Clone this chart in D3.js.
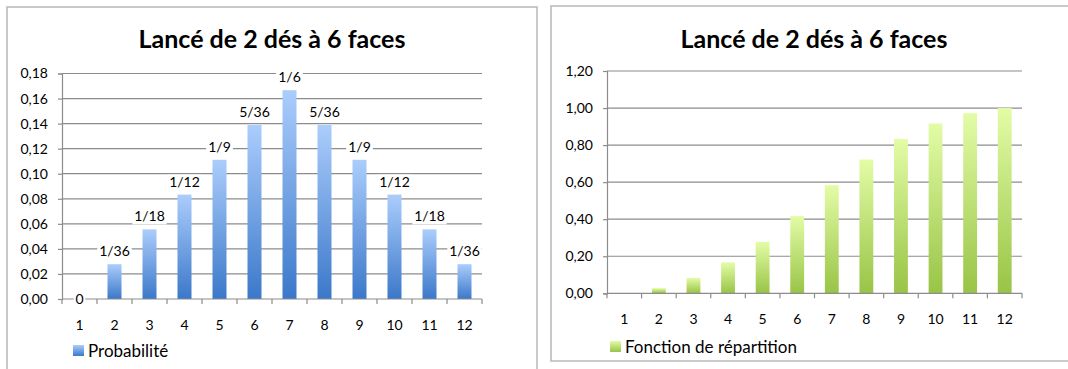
<!DOCTYPE html>
<html>
<head>
<meta charset="utf-8">
<script src="https://cdn.jsdelivr.net/npm/d3@7"></script>
<style>
  body { margin: 0; background: #fff; }
  svg { display: block; font-family: Lato, "Open Sans", sans-serif; }
</style>
</head>
<body>
<div id="chart"></div>
<script>
// data
const faces = ["1", "2", "3", "4", "5", "6", "7", "8", "9", "10", "11", "12"];
const probValues = [0, 1/36, 2/36, 3/36, 4/36, 5/36, 6/36, 5/36, 4/36, 3/36, 2/36, 1/36];
const probLabels = ["0", "1/36", "1/18", "1/12", "1/9", "5/36", "1/6", "5/36", "1/9", "1/12", "1/18", "1/36"];
const cumulValues = [0, 1/36, 3/36, 6/36, 10/36, 15/36, 21/36, 26/36, 30/36, 33/36, 35/36, 1];
const probTicks = [0, 0.02, 0.04, 0.06, 0.08, 0.10, 0.12, 0.14, 0.16, 0.18];
const cumulTicks = [0, 0.2, 0.4, 0.6, 0.8, 1.0, 1.2];
const chartTitle = "Lancé de 2 dés à 6 faces";
const probName = "Probabilité";
const cumulName = "Fonction de répartition";

const fr = d3.formatLocale({decimal: ",", thousands: " ", grouping: [3], currency: ["", "€"]});
const fmt = fr.format(".2f");

const svg = d3.select("#chart")
    .append("svg")
    .attr("width", 1068)
    .attr("height", 369);

const defs = svg.append("defs");
function gradient(id, top, bottom) {
    const g = defs.append("linearGradient")
        .attr("id", id)
        .attr("x1", 0).attr("y1", 0).attr("x2", 0).attr("y2", 1);
    g.append("stop").attr("offset", "0%").attr("stop-color", top);
    g.append("stop").attr("offset", "100%").attr("stop-color", bottom);
}
gradient("blueGrad", "#abcdfc", "#3b78c9");
gradient("greenGrad", "#e3fca6", "#98c446");

function drawPanel(opt) {
    const g = svg.append("g");

    // frame
    g.append("rect")
        .attr("x", opt.frame[0]).attr("y", opt.frame[1])
        .attr("width", opt.frame[2]).attr("height", opt.frame[3])
        .attr("fill", "#fff")
        .attr("stroke", "#b8b8b8")
        .attr("stroke-width", 1.5);

    // title
    g.append("text")
        .attr("x", opt.titleX).attr("y", 48)
        .attr("text-anchor", "middle")
        .attr("font-size", "25px")
        .attr("font-weight", "bold")
        .attr("fill", "#000")
        .text(chartTitle);

    const x = d3.scaleBand()
        .domain(faces)
        .range([opt.left, opt.right]);

    const y = d3.scaleLinear()
        .domain([0, d3.max(opt.ticks)])
        .range([opt.bottom, opt.top]);

    // gridlines
    g.append("g")
        .selectAll("line")
        .data(opt.ticks.slice(1))
        .join("line")
        .attr("x1", opt.left).attr("x2", opt.right)
        .attr("y1", d => y(d)).attr("y2", d => y(d))
        .attr("stroke", "#8c8c8c")
        .attr("stroke-width", 1.2);

    // y axis
    const yAxis = g.append("g")
        .attr("transform", `translate(${opt.left},0)`)
        .call(d3.axisLeft(y).tickValues(opt.ticks).tickFormat(fmt).tickSize(4).tickPadding(10));
    yAxis.select(".domain").attr("stroke", "#8c8c8c").attr("stroke-width", 1.2);
    yAxis.selectAll(".tick line").attr("stroke", "#8c8c8c").attr("stroke-width", 1.2);
    yAxis.selectAll(".tick text")
        .attr("font-size", "14px")
        .attr("font-family", "Lato, sans-serif")
        .attr("fill", "#000");

    // bars
    const bw = x.bandwidth() / 2.5;
    g.append("g")
        .selectAll("rect")
        .data(opt.values)
        .join("rect")
        .attr("x", (d, i) => x(faces[i]) + (x.bandwidth() - bw) / 2)
        .attr("y", d => y(d))
        .attr("width", bw)
        .attr("height", d => opt.bottom - y(d))
        .attr("fill", `url(#${opt.grad})`);

    // x axis
    const xAxis = g.append("g")
        .attr("transform", `translate(0,${opt.bottom})`);
    xAxis.append("line")
        .attr("x1", opt.left).attr("x2", opt.right)
        .attr("stroke", "#8c8c8c").attr("stroke-width", 1.2);
    xAxis.selectAll(".xt")
        .data(faces.concat(["end"]))
        .join("line")
        .attr("class", "xt")
        .attr("x1", (d, i) => opt.left + i * x.step())
        .attr("x2", (d, i) => opt.left + i * x.step())
        .attr("y1", 0).attr("y2", 5)
        .attr("stroke", "#8c8c8c").attr("stroke-width", 1.2);
    xAxis.selectAll(".xl")
        .data(faces)
        .join("text")
        .attr("class", "xl")
        .attr("x", d => x(d) + x.bandwidth() / 2)
        .attr("y", opt.xLabelY - opt.bottom)
        .attr("text-anchor", "middle")
        .attr("font-size", "14px")
        .attr("fill", "#000")
        .text(d => d);

    // data labels
    if (opt.labels) {
        const lab = g.append("g")
            .selectAll("g")
            .data(opt.values)
            .join("g")
            .attr("transform", (d, i) => {
                const cx = x(faces[i]) + x.bandwidth() / 2;
                const cy = d === 0 ? y(0) + 5 : y(d) - 8;
                return `translate(${cx},${cy})`;
            });
        lab.append("rect")
            .attr("x", (d, i) => -opt.labels[i].length * 3.8 - 2)
            .attr("y", -12)
            .attr("width", (d, i) => opt.labels[i].length * 7.6 + 4)
            .attr("height", 15)
            .attr("fill", "#fff");
        lab.append("text")
            .attr("text-anchor", "middle")
            .attr("font-size", "14px")
            .attr("fill", "#000")
            .text((d, i) => opt.labels[i]);
    }

    // legend
    g.append("rect")
        .attr("x", opt.legendX).attr("y", opt.legendY - 12)
        .attr("width", 11).attr("height", 11)
        .attr("fill", `url(#${opt.grad})`);
    g.append("text")
        .attr("x", opt.legendX + 15).attr("y", opt.legendY)
        .attr("font-size", "17px")
        .attr("fill", "#000")
        .text(opt.name);
}

drawPanel({
    frame: [7, 7, 530, 380],
    titleX: 272,
    left: 62, right: 482, top: 73.5, bottom: 299,
    ticks: probTicks,
    values: probValues,
    labels: probLabels,
    grad: "blueGrad",
    xLabelY: 330,
    legendX: 73, legendY: 357,
    name: probName
});

drawPanel({
    frame: [551, 6, 530, 355],
    titleX: 814,
    left: 607, right: 1022, top: 71, bottom: 293.3,
    ticks: cumulTicks,
    values: cumulValues,
    labels: null,
    grad: "greenGrad",
    xLabelY: 324,
    legendX: 610, legendY: 353,
    name: cumulName
});
</script>
</body>
</html>
